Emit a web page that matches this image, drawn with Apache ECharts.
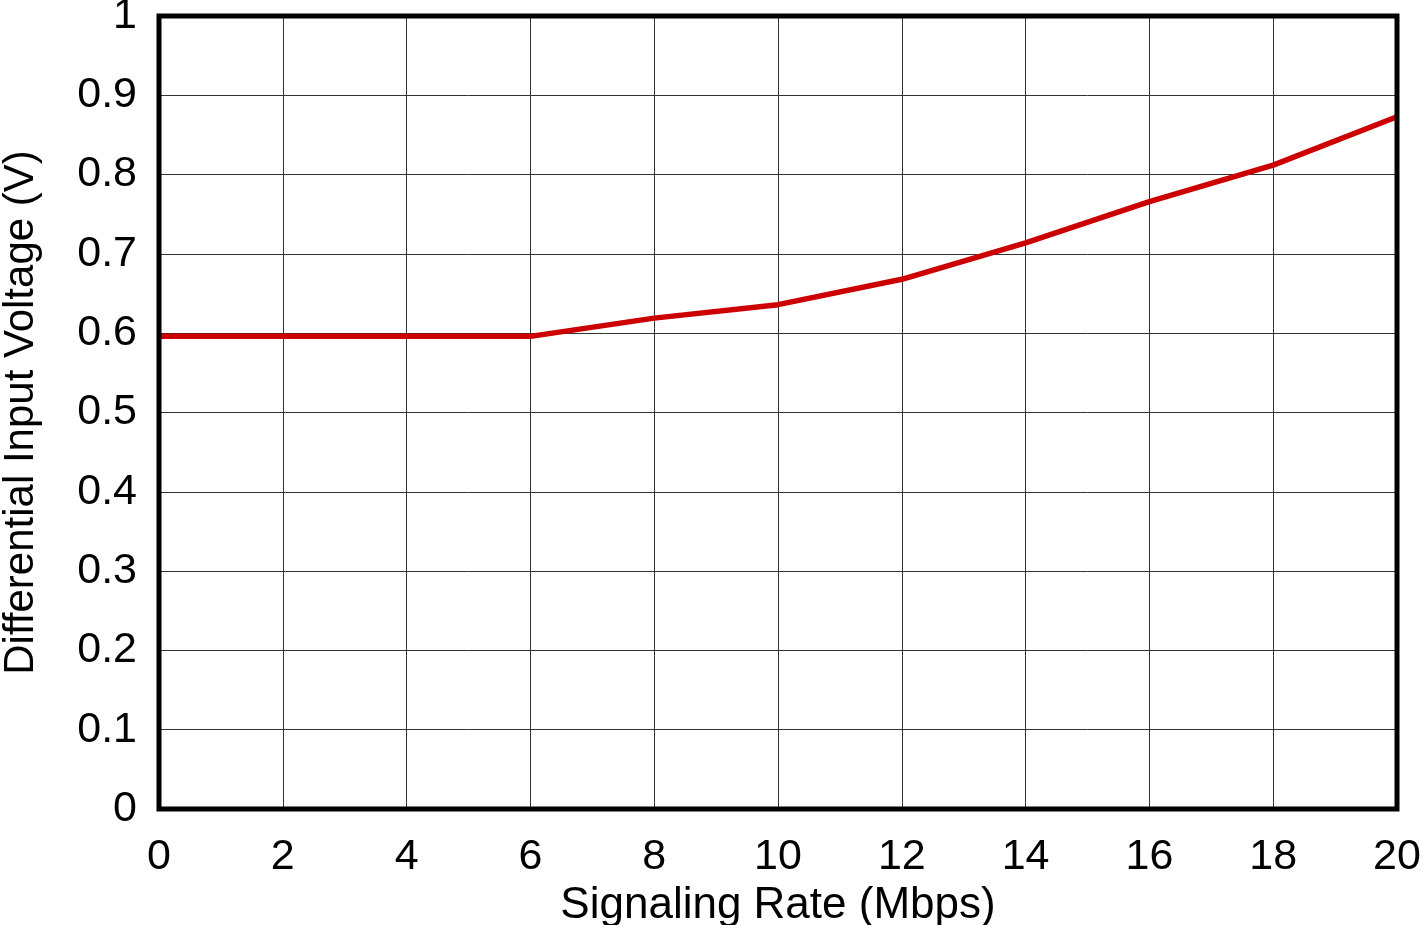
<!DOCTYPE html>
<html>
<head>
<meta charset="utf-8">
<script src="https://cdn.jsdelivr.net/npm/echarts@6/dist/echarts.min.js"></script>
<style>
html,body{margin:0;padding:0;background:#fff;}
#chart{width:1423px;height:925px;}
</style>
</head>
<body>
<div id="chart"></div>
<script>
const rates = [0, 2, 4, 6, 8, 10, 12, 14, 16, 18, 20];
const voltage = [0.596, 0.596, 0.596, 0.596, 0.619, 0.636, 0.668, 0.714, 0.766, 0.812, 0.873];
const xTitle = 'Signaling Rate (Mbps)';
const yTitle = 'Differential Input Voltage (V)';

const font = 'Liberation Sans, Arial, sans-serif';
const chart = echarts.init(document.getElementById('chart'), null, {renderer: 'canvas'});
chart.setOption({
  animation: false,
  backgroundColor: '#fff',
  grid: {
    left: 159, right: 26, top: 16, bottom: 116,
    containLabel: false, outerBoundsMode: 'none',
    show: true, borderColor: '#000', borderWidth: 5, backgroundColor: 'transparent', z: 3
  },
  xAxis: {
    type: 'value', min: 0, max: 20, interval: 2,
    name: xTitle, nameLocation: 'middle', nameGap: 68,
    nameTextStyle: {fontFamily: font, fontSize: 44, color: '#000'},
    axisLine: {show: false}, axisTick: {show: false},
    axisLabel: {fontFamily: font, fontSize: 43, color: '#000', margin: 27},
    splitLine: {show: true, lineStyle: {color: '#333', width: 1}}
  },
  yAxis: {
    type: 'value', min: 0, max: 1, interval: 0.1,
    name: yTitle, nameLocation: 'middle', nameGap: 117,
    nameTextStyle: {fontFamily: font, fontSize: 42, color: '#000'},
    axisLine: {show: false}, axisTick: {show: false},
    axisLabel: {fontFamily: font, fontSize: 43, color: '#000', margin: 22,
      formatter: v => (v === 0 ? '0' : v === 1 ? '1' : v.toFixed(1))},
    splitLine: {show: true, lineStyle: {color: '#333', width: 1}}
  },
  series: [{
    type: 'line',
    data: rates.map((r, i) => [r, voltage[i]]),
    symbol: 'none',
    lineStyle: {color: '#cc0000', width: 5.5},
    z: 2
  }]
});
</script>
</body>
</html>
